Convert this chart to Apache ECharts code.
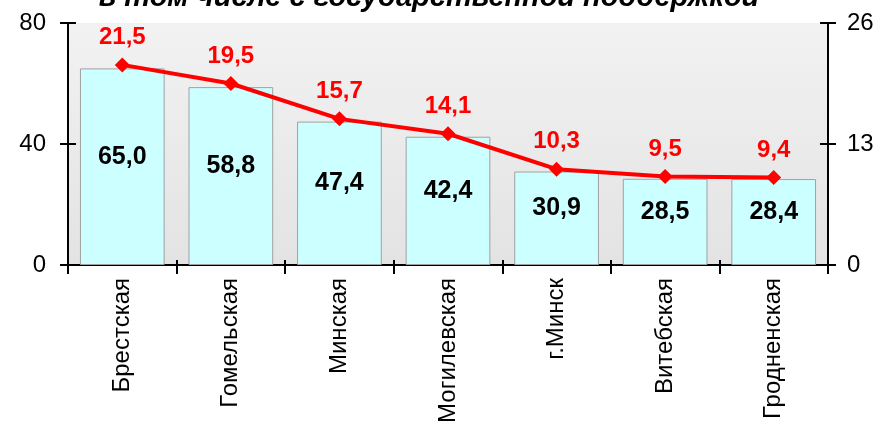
<!DOCTYPE html>
<html>
<head>
<meta charset="utf-8">
<script src="https://cdn.jsdelivr.net/npm/echarts@6/dist/echarts.min.js"></script>
<style>html,body{margin:0;padding:0;background:#fff;}#c{width:890px;height:427px;}</style>
</head>
<body>
<div id="c"></div>
<script>
const categories = ['Брестская', 'Гомельская', 'Минская', 'Могилевская', 'г.Минск', 'Витебская', 'Гродненская'];
const barValues = [65.0, 58.8, 47.4, 42.4, 30.9, 28.5, 28.4];
const lineValues = [21.5, 19.5, 15.7, 14.1, 10.3, 9.5, 9.4];
const leftTicks = [0, 40, 80];
const rightTicks = [0, 13, 26];
const titleText = 'в том числе с государственной поддержкой';

const FONT = 'Arial, "Liberation Sans", sans-serif';
const fmt = v => v.toFixed(1).replace('.', ',');
const tickStyle = { color: '#000', width: 2 };
const chart = echarts.init(document.getElementById('c'));
chart.setOption({
  animation: false,
  title: {
    text: titleText, left: 424, top: -22,
    textAlign: 'center',
    textStyle: { fontFamily: FONT, fontSize: 29, fontStyle: 'italic', fontWeight: 'bold', color: '#000' }
  },
  grid: {
    left: 68, right: 62, top: 23, bottom: 162, show: true, borderWidth: 0,
    backgroundColor: new echarts.graphic.LinearGradient(0, 0, 0, 1, [
      { offset: 0, color: '#f2f2f2' }, { offset: 1, color: '#e3e3e3' }
    ])
  },
  xAxis: [
    {
      type: 'category', data: categories,
      axisLine: { lineStyle: { color: '#000', width: 2 } },
      axisTick: { show: true, length: 9, lineStyle: tickStyle },
      axisLabel: { rotate: 90, margin: 13, fontFamily: FONT, fontSize: 24, color: '#000' }
    },
    {
      type: 'category', data: categories, position: 'bottom',
      axisLine: { show: false },
      axisTick: { show: true, inside: true, length: 5, lineStyle: tickStyle },
      axisLabel: { show: false }
    }
  ],
  yAxis: [
    {
      type: 'value', min: 0, max: 80, interval: 40,
      splitLine: { show: false },
      axisLine: { show: true, lineStyle: { color: '#000', width: 2 } },
      axisTick: { show: true, length: 8, lineStyle: tickStyle },
      axisLabel: { margin: 22, fontFamily: FONT, fontSize: 24, color: '#000',
        formatter: v => leftTicks.includes(v) ? String(v) : '' }
    },
    {
      type: 'value', min: 0, max: 26, interval: 13, position: 'right',
      splitLine: { show: false },
      axisLine: { show: true, lineStyle: { color: '#000', width: 2 } },
      axisTick: { show: true, length: 8, lineStyle: tickStyle },
      axisLabel: { margin: 19, fontFamily: FONT, fontSize: 24, color: '#000',
        formatter: v => rightTicks.includes(v) ? String(v) : '' }
    },
    {
      type: 'value', min: 0, max: 80, interval: 40, position: 'left',
      splitLine: { show: false }, axisLine: { show: false },
      axisTick: { show: true, inside: true, length: 8, lineStyle: tickStyle },
      axisLabel: { show: false }
    },
    {
      type: 'value', min: 0, max: 26, interval: 13, position: 'right',
      splitLine: { show: false }, axisLine: { show: false },
      axisTick: { show: true, inside: true, length: 8, lineStyle: tickStyle },
      axisLabel: { show: false }
    }
  ],
  series: [
    {
      type: 'bar', data: barValues, yAxisIndex: 0, barWidth: '78%',
      itemStyle: { color: '#ccffff', borderColor: '#a0a0a0', borderWidth: 1 },
      label: { show: true, position: 'inside', offset: [0, -10], formatter: p => fmt(p.value),
        fontFamily: FONT, fontSize: 25, fontWeight: 'bold', color: '#000' }
    },
    {
      type: 'line', data: lineValues, yAxisIndex: 1,
      symbol: 'diamond', symbolSize: 15,
      lineStyle: { color: '#ff0000', width: 4 },
      itemStyle: { color: '#ff0000' },
      label: { show: true, position: 'top', distance: 8, formatter: p => fmt(p.value),
        fontFamily: FONT, fontSize: 24, fontWeight: 'bold', color: '#ff0000' }
    }
  ]
});
</script>
</body>
</html>
